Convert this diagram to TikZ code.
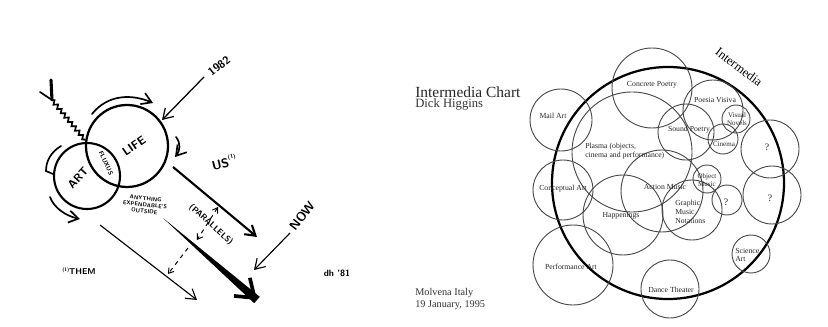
\documentclass[tikz,border=0pt]{standalone}
\usepackage{fontspec}
\setmainfont{Liberation Serif}
\usetikzlibrary{arrows.meta,positioning,calc,decorations.pathmorphing}

\tikzset{
  sk/.style={line width=1.2pt, line cap=round},
  ring/.style={draw=black!72, line width=0.65pt},
  hand/.style={font=\sffamily\bfseries\fontsize{7}{7.5}\selectfont, inner sep=0pt, align=center},
  lbl/.style={font=\fontsize{5.5}{6.2}\selectfont, inner sep=0pt, align=center, text=black!85},
  barb/.style={-{Straight Barb[length=2.4mm,width=3mm]}},
}

\begin{document}
\begin{tikzpicture}[x=0.025cm, y=-0.025cm]
\useasboundingbox (0,0) rectangle (828,327);

% --- sketch (left) ---
\coordinate (art) at (87,176);
\coordinate (life) at (127,146);
\draw[sk, line width=1.5pt] (art) circle[radius=33];
\draw[sk, line width=1.6pt] (life) circle[radius=41];
\node[hand, rotate=48, font=\sffamily\bfseries\fontsize{8}{8}\selectfont] (tart) at (78,178) {ART};
\node[hand, rotate=35, font=\sffamily\bfseries\fontsize{8.5}{8.5}\selectfont] (tlife) at (134,146) {LIFE};
\node[hand, rotate=-65, font=\sffamily\bfseries\fontsize{4.5}{4.5}\selectfont] (tflux) at (106,163) {FLUXUS};
\node[hand, rotate=-6, font=\sffamily\bfseries\fontsize{4}{4.6}\selectfont] (tany) at (145,205) {ANYTHING\\EXPENDABLE'S\\OUTSIDE};

% arrows round the circles
\coordinate (a1) at (92,114);  \coordinate (a2) at (153,103);
\draw[sk, barb] (a1) .. controls (108,94) and (132,94) .. (a2);
\coordinate (b1) at (176,137); \coordinate (b2) at (175,157);
\draw[sk, barb] (b1) .. controls (181,143) and (180,151) .. (b2);
\coordinate (c1) at (61,146);  \coordinate (c2) at (46,171);
\draw[sk] (c1) .. controls (51,152) and (46,161) .. (c2) -- (53,174);
\coordinate (d1) at (50,197);  \coordinate (d2) at (80,219);
\draw[sk, barb] (d1) .. controls (54,208) and (66,216) .. (d2);

% wavy stroke
\coordinate (w1) at (52,100);  \coordinate (w2) at (85,140);
\draw[sk, decorate, decoration={snake, amplitude=1.3pt, segment length=4pt}] (w1) -- (w2);
\draw[line width=2.2pt, line cap=round] (51,80) -- (w1);
\draw[sk] (40,92) -- (w1);

% 1982
\node[hand, rotate=38, font=\sffamily\bfseries\fontsize{8}{8}\selectfont] (t1982) at (219,66) {1982};
\coordinate (y1) at (204,77);  \coordinate (y2) at (162,120);
\draw[line width=0.9pt, barb] (y1) -- (y2);

% US
\node[hand, rotate=14, font=\sffamily\bfseries\fontsize{9}{9}\selectfont] (tus) at (224,162) {US\raisebox{1.2ex}{\fontsize{4}{4}\selectfont (1)}};

% parallel arrows
\coordinate (p1) at (173,167); \coordinate (p2) at (257,237);
\draw[line width=1.5pt, barb] (p1) -- (p2);
\coordinate (q1) at (163,218); \coordinate (q2) at (257,300);
\fill (q1) -- ($(q2)!3pt!90:(q1)$) -- ($(q2)!3pt!-90:(q1)$) -- cycle;
\draw[line width=3pt, -{Straight Barb[length=4.2mm,width=6mm,line width=2.6pt]}] ($(q1)!0.6!(q2)$) -- (q2);
\coordinate (r1) at (100,225); \coordinate (r2) at (197,300);
\draw[line width=0.8pt, barb] (r1) -- (r2);

\node[hand, rotate=-42, font=\sffamily\bfseries\fontsize{6}{6}\selectfont] (tpar) at (211,225) {(PARALLELS)};
\coordinate (e1) at (218,207); \coordinate (e2) at (197,240);
\draw[line width=0.7pt, dashed, {Straight Barb[length=1.2mm,width=1.6mm]}-{Straight Barb[length=1.2mm,width=1.6mm]}] (e1) -- (e2);
\coordinate (f1) at (188,248); \coordinate (f2) at (168,274);
\draw[line width=0.7pt, dashed, -{Straight Barb[length=1.2mm,width=1.6mm]}] (f1) -- (f2);

% NOW
\node[hand, rotate=52, font=\sffamily\bfseries\fontsize{9}{9}\selectfont] (tnow) at (302,216) {NOW};
\coordinate (n1) at (290,233); \coordinate (n2) at (254,270);
\draw[line width=0.8pt, barb] (n1) -- (n2);

\node[hand, font=\sffamily\bfseries\fontsize{6}{6}\selectfont] (tthem) at (79,271) {\raisebox{0.9ex}{\fontsize{3.5}{3.5}\selectfont (1)}THEM};
\node[hand, font=\sffamily\bfseries\fontsize{6.5}{6.5}\selectfont] (tdh) at (337,273) {dh '81};

% --- Intermedia chart (right) ---
\node[anchor=west, inner sep=0pt, text=black!85, font=\fontsize{11}{11}\selectfont] (title) at (415,92) {Intermedia Chart};
\node[anchor=west, inner sep=0pt, text=black!80, font=\fontsize{9}{9}\selectfont] (author) at (415,104) {Dick Higgins};
\node[anchor=west, inner sep=0pt, text=black!80, align=left, font=\fontsize{7.3}{9}\selectfont] (place) at (415,299) {Molvena Italy\\19 January, 1995};

\coordinate (im) at (668,183);
\draw[line width=1.6pt] (im) circle[radius=116];
\node[rotate=-37, inner sep=0pt, font=\fontsize{9}{9}\selectfont] (tim) at (739,67) {Intermedia};

\foreach \cx/\cy/\r in {652/88/40, 632/152/60, 561/120/31, 563/190/30,
    573/265/40, 623/215/40, 662/191/41, 686/132/28, 713/110/30,
    736/119/14, 723/139/15, 707/179/14, 692/210/30, 727/200/15,
    770/149/29, 772/195/29, 751/254/19, 670/289/29}
  \draw[ring] (\cx,\cy) circle[radius=\r];

\node[lbl] (concrete) at (652,85) {Concrete Poetry};
\node[lbl] (mail) at (553,116) {Mail Art};
\node[lbl, align=left, anchor=west] (plasma) at (585,151) {Plasma (objects,\\cinema and performance)};
\node[lbl] (poesia) at (715,100) {Poesia Visiva};
\node[lbl, font=\fontsize{5}{6}\selectfont] (visual) at (737,119) {Visual\\Novels};
\node[lbl] (sound) at (689,130) {Sound Poetry};
\node[lbl, font=\fontsize{5}{6}\selectfont] (cinema) at (724,144) {Cinema};
\node[lbl, font=\fontsize{5}{6}\selectfont] (object) at (707,180) {Object\\Music};
\node[lbl] (action) at (665,187) {Action Music};
\node[lbl, align=left, anchor=west] (graphic) at (675,212) {Graphic\\Music\\Notations};
\node[lbl, font=\fontsize{7}{7}\selectfont] (qa) at (726,202) {?};
\node[lbl, font=\fontsize{7}{7}\selectfont] (qb) at (767,147) {?};
\node[lbl, font=\fontsize{7}{7}\selectfont] (qc) at (770,198) {?};
\node[lbl] (concept) at (563,189) {Conceptual Art};
\node[lbl] (happen) at (621,216) {Happenings};
\node[lbl] (perform) at (571,267) {Performance Art};
\node[lbl] (dance) at (671,290) {Dance Theater};
\node[lbl, align=left, anchor=west] (science) at (735,255) {Science\\Art};
\end{tikzpicture}
\end{document}
